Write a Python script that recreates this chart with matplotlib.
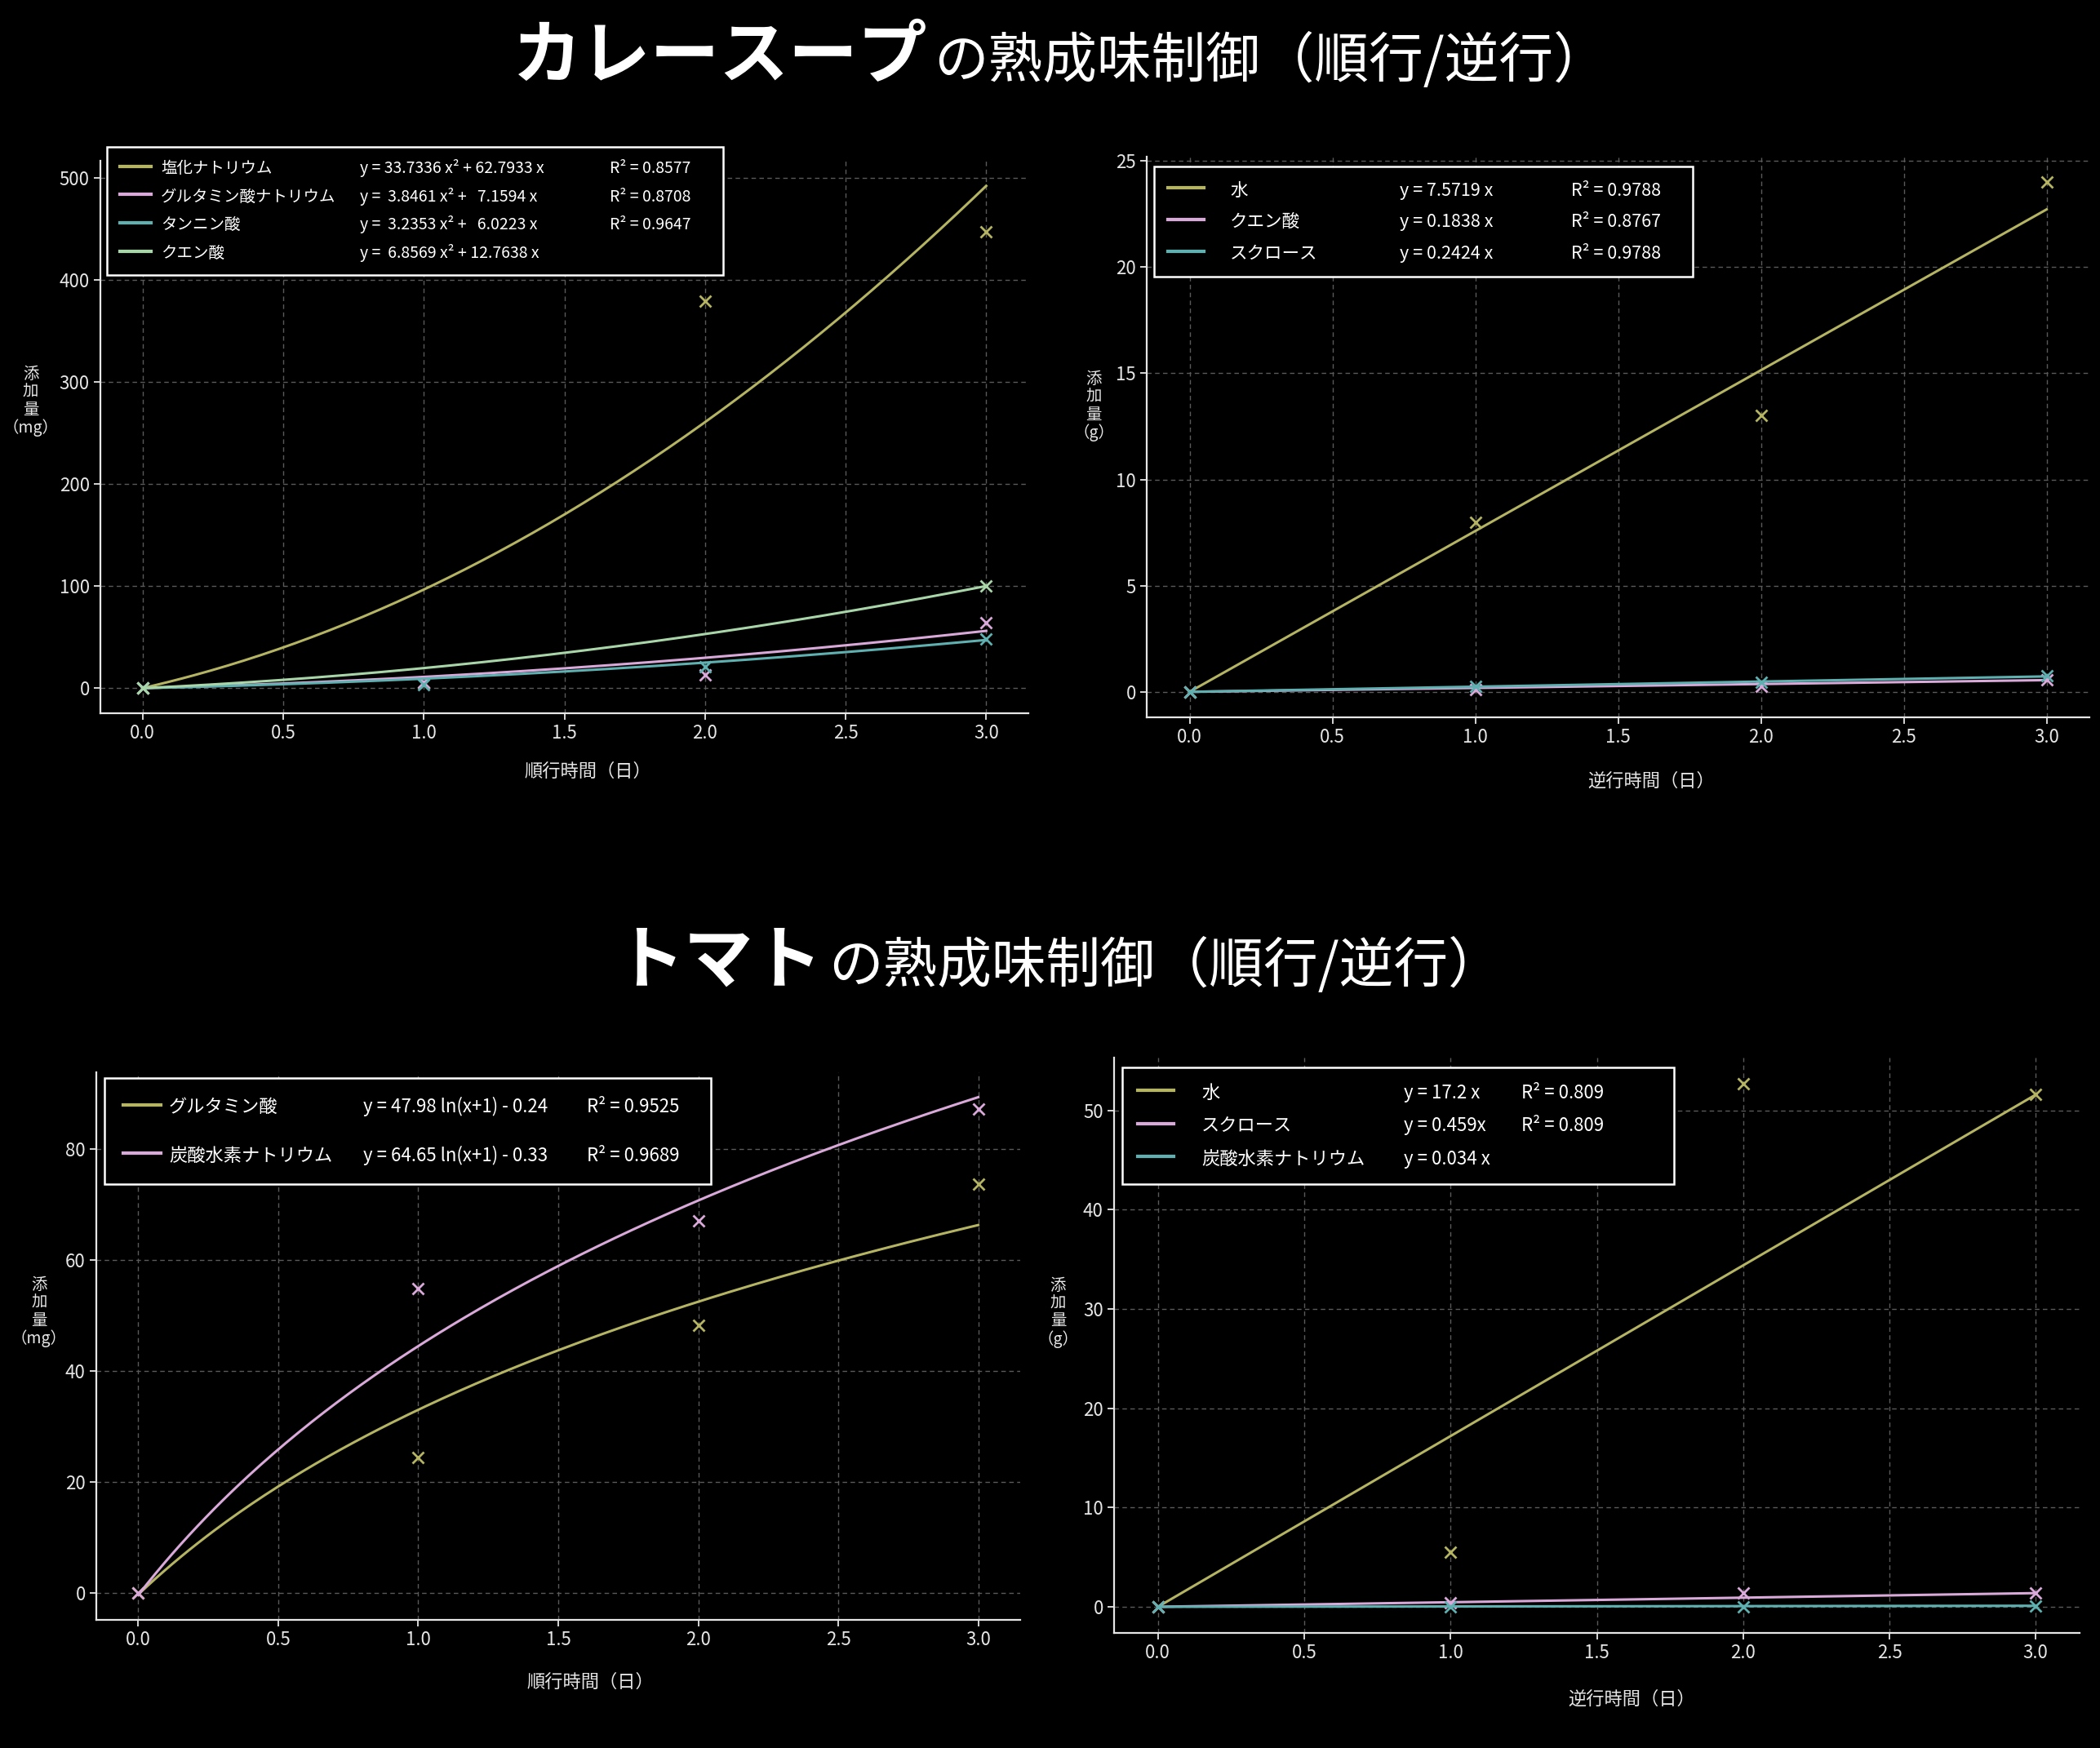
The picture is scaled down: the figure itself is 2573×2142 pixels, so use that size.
import numpy as np
import matplotlib
matplotlib.use("Agg")
import matplotlib.pyplot as plt
from matplotlib.transforms import blended_transform_factory

plt.rcParams['font.family'] = ['Noto Sans CJK JP', 'DejaVu Sans']

# ---------------- data ----------------
days = [0, 1, 2, 3]

# Curry soup, forward
curry_fwd_names = ['塩化ナトリウム', 'グルタミン酸ナトリウム', 'タンニン酸', 'クエン酸']
curry_fwd_salt = [0, 5, 379, 447]
curry_fwd_msg = [0, 6, 13, 64]
curry_fwd_tannin = [0, 3, 21, 48]
curry_fwd_citric = [0, np.nan, np.nan, 100]
curry_fwd_a = [33.7336, 3.8461, 3.2353, 6.8569]
curry_fwd_b = [62.7933, 7.1594, 6.0223, 12.7638]
curry_fwd_eq = ['y = 33.7336 x² + 62.7933 x', 'y =  3.8461 x² +   7.1594 x',
                'y =  3.2353 x² +   6.0223 x', 'y =  6.8569 x² + 12.7638 x']
curry_fwd_r2 = ['R² = 0.8577', 'R² = 0.8708', 'R² = 0.9647', '']

# Curry soup, reverse
curry_rev_names = ['水', 'クエン酸', 'スクロース']
curry_rev_water = [0, 8.0, 13.0, 24.0]
curry_rev_citric = [0, 0.12, 0.25, 0.57]
curry_rev_sucrose = [0, 0.25, 0.45, 0.77]
curry_rev_k = [7.5719, 0.1838, 0.2424]
curry_rev_eq = ['y = 7.5719 x', 'y = 0.1838 x', 'y = 0.2424 x']
curry_rev_r2 = ['R² = 0.9788', 'R² = 0.8767', 'R² = 0.9788']

# Tomato, forward
tomato_fwd_names = ['グルタミン酸', '炭酸水素ナトリウム']
tomato_fwd_glu = [0, 24.5, 48.3, 73.7]
tomato_fwd_bicarb = [0, 54.9, 67.0, 87.2]
tomato_fwd_a = [47.98, 64.65]
tomato_fwd_c = [-0.24, -0.33]
tomato_fwd_eq = ['y = 47.98 ln(x+1) - 0.24', 'y = 64.65 ln(x+1) - 0.33']
tomato_fwd_r2 = ['R² = 0.9525', 'R² = 0.9689']

# Tomato, reverse
tomato_rev_names = ['水', 'スクロース', '炭酸水素ナトリウム']
tomato_rev_water = [0, 5.5, 52.7, 51.6]
tomato_rev_sucrose = [0, 0.4, 1.4, 1.4]
tomato_rev_bicarb = [0, 0.0, 0.0, 0.1]
tomato_rev_k = [17.2, 0.459, 0.034]
tomato_rev_eq = ['y = 17.2 x', 'y = 0.459x', 'y = 0.034 x']
tomato_rev_r2 = ['R² = 0.809', 'R² = 0.809', '']

# ---------------- style ----------------
YEL = '#b4b463'
PINK = '#d9a9d9'
TEAL = '#5fb0b0'
GREEN = '#a9d6a9'
FG = '#e6e6e6'

W, H = 2573, 2142
fig = plt.figure(figsize=(W / 100, H / 100), dpi=100, facecolor='black')

xs = np.linspace(0, 3, 200)
pending = []  # extra legend columns, placed after a first draw


def style_axes(ax):
    ax.set_facecolor('black')
    for s in ['top', 'right']:
        ax.spines[s].set_visible(False)
    for s in ['left', 'bottom']:
        ax.spines[s].set_color(FG)
        ax.spines[s].set_linewidth(1.6)
    ax.tick_params(colors=FG, labelsize=16, length=6, width=1.3)
    ax.grid(True, color='#5a5a5a', linestyle=(0, (4, 3)), linewidth=1.0)
    ax.set_axisbelow(True)


def add_legend(ax, axbox, lines, names, eqs, r2s, fs, box, line_len,
               text_x, eq_x, r2_x, pitch, bp):
    """axbox/box/... are in full-size pixel units (left, top, right)."""
    ax_l, ax_t, ax_w, ax_h = axbox
    fpx = fs * 100 / 72
    hl = line_len / fpx
    htp = (text_x - box[0]) / fpx - bp - hl
    ls = pitch / fpx - 1.10
    x0 = (box[0] - ax_l) / ax_w
    ytop = (ax_t + ax_h - box[1]) / ax_h
    wid = (box[2] - box[0]) / ax_w
    leg = ax.legend(lines, names, loc='upper left',
                    bbox_to_anchor=(x0, ytop, wid, 0), mode='expand',
                    borderaxespad=0, fontsize=fs, frameon=True,
                    fancybox=False, edgecolor='white', facecolor='black',
                    framealpha=1.0, labelcolor='white', handlelength=hl,
                    handleheight=1.2, handletextpad=htp, labelspacing=ls,
                    borderpad=bp)
    leg.get_frame().set_linewidth(1.8)
    for hline in leg.get_lines():
        hline.set_linewidth(3.0)
    pending.append((ax, leg, eqs, r2s, (eq_x - ax_l) / ax_w,
                    (r2_x - ax_l) / ax_w, fs))
    return leg


def set_labels(ax, xlabel, unit, xl_pos, yl_pos):
    ax.set_xlabel(xlabel, color=FG, fontsize=16)
    ax.xaxis.set_label_coords(*xl_pos)
    ax.set_ylabel('添\n加\n量\n（' + unit + '）', color=FG, fontsize=14,
                  rotation=0, linespacing=1.05, va='center', ha='center')
    ax.yaxis.set_label_coords(*yl_pos)


MS = 10
MEW = 2.0
LW = 2.2

# ---------- Top-left: curry forward ----------
box1 = (123, 197, 1137, 677)
ax1 = fig.add_axes([box1[0] / W, 1 - (box1[1] + box1[3]) / H, box1[2] / W, box1[3] / H])
style_axes(ax1)
series1 = [curry_fwd_salt, curry_fwd_msg, curry_fwd_tannin, curry_fwd_citric]
cols1 = [YEL, PINK, TEAL, GREEN]
lines1 = []
for ys, a, b, c in zip(series1, curry_fwd_a, curry_fwd_b, cols1):
    ln, = ax1.plot(xs, a * xs ** 2 + b * xs, color=c, lw=LW)
    ax1.plot(days, ys, 'x', color=c, ms=MS, mew=MEW)
    lines1.append(ln)
add_legend(ax1, box1, lines1, curry_fwd_names, curry_fwd_eq, curry_fwd_r2,
           14, (131, 180, 886), 38, 197, 441, 747, 34.5, 0.8)
set_labels(ax1, '順行時間（日）', 'mg', (0.525, -0.088), (-0.075, 0.565))

# ---------- Top-right: curry reverse ----------
box2 = (1405, 192, 1155, 687)
ax2 = fig.add_axes([box2[0] / W, 1 - (box2[1] + box2[3]) / H, box2[2] / W, box2[3] / H])
style_axes(ax2)
series2 = [curry_rev_water, curry_rev_citric, curry_rev_sucrose]
cols2 = [YEL, PINK, TEAL]
lines2 = []
for ys, k, c in zip(series2, curry_rev_k, cols2):
    ln, = ax2.plot(xs, k * xs, color=c, lw=LW)
    ax2.plot(days, ys, 'x', color=c, ms=MS, mew=MEW)
    lines2.append(ln)
add_legend(ax2, box2, lines2, curry_rev_names, curry_rev_eq, curry_rev_r2,
           15.5, (1414, 204, 2074), 44, 1507, 1715, 1925, 39, 0.8)
set_labels(ax2, '逆行時間（日）', 'g', (0.535, -0.097), (-0.056, 0.555))

# ---------- Bottom-left: tomato forward ----------
box3 = (118, 1314, 1132, 671)
ax3 = fig.add_axes([box3[0] / W, 1 - (box3[1] + box3[3]) / H, box3[2] / W, box3[3] / H])
style_axes(ax3)
series3 = [tomato_fwd_glu, tomato_fwd_bicarb]
cols3 = [YEL, PINK]
lines3 = []
for ys, a, c0, c in zip(series3, tomato_fwd_a, tomato_fwd_c, cols3):
    ln, = ax3.plot(xs, a * np.log(xs + 1) + c0, color=c, lw=LW)
    ax3.plot(days, ys, 'x', color=c, ms=MS, mew=MEW)
    lines3.append(ln)
add_legend(ax3, box3, lines3, tomato_fwd_names, tomato_fwd_eq, tomato_fwd_r2,
           16, (128, 1321, 871), 46, 207, 445, 719, 60, 1.05)
set_labels(ax3, '順行時間（日）', 'mg', (0.535, -0.097), (-0.062, 0.562))

# ---------- Bottom-right: tomato reverse ----------
box4 = (1365, 1296, 1183, 705)
ax4 = fig.add_axes([box4[0] / W, 1 - (box4[1] + box4[3]) / H, box4[2] / W, box4[3] / H])
style_axes(ax4)
series4 = [tomato_rev_water, tomato_rev_sucrose, tomato_rev_bicarb]
cols4 = [YEL, PINK, TEAL]
lines4 = []
for ys, k, c in zip(series4, tomato_rev_k, cols4):
    ln, = ax4.plot(xs, k * xs, color=c, lw=LW)
    ax4.plot(days, ys, 'x', color=c, ms=MS, mew=MEW)
    lines4.append(ln)
add_legend(ax4, box4, lines4, tomato_rev_names, tomato_rev_eq, tomato_rev_r2,
           16, (1375, 1308, 2051), 44, 1472, 1720, 1864, 41, 0.85)
set_labels(ax4, '逆行時間（日）', 'g', (0.536, -0.099), (-0.058, 0.557))

# ---------- titles ----------
fig.text(0.4415, 1 - 70 / H, 'カレースープ', color='white', fontsize=61,
         fontweight='bold', ha='right', va='center')
fig.text(0.4445, 1 - 75 / H, 'の熟成味制御（順行/逆行）', color='white',
         fontsize=48, ha='left', va='center')
fig.text(0.3915, 1 - 1178 / H, 'トマト', color='white', fontsize=61,
         fontweight='bold', ha='right', va='center')
fig.text(0.3945, 1 - 1184 / H, 'の熟成味制御（順行/逆行）', color='white',
         fontsize=48, ha='left', va='center')

# ---------- extra legend columns (equation, R²) aligned to legend rows ----------
fig.canvas.draw()
for ax, leg, eqs, r2s, ex, rx, fs in pending:
    tr = blended_transform_factory(ax.transAxes, fig.transFigure)
    for t, eq, r2 in zip(leg.get_texts(), eqs, r2s):
        ybase = t.get_transform().transform((0, 0))[1] / fig.bbox.height
        ax.text(ex, ybase, eq, transform=tr, color='white', fontsize=fs,
                va='baseline', ha='left', zorder=10)
        if r2:
            ax.text(rx, ybase, r2, transform=tr, color='white', fontsize=fs,
                    va='baseline', ha='left', zorder=10)

fig.savefig('out.png', dpi=100, facecolor='black')
